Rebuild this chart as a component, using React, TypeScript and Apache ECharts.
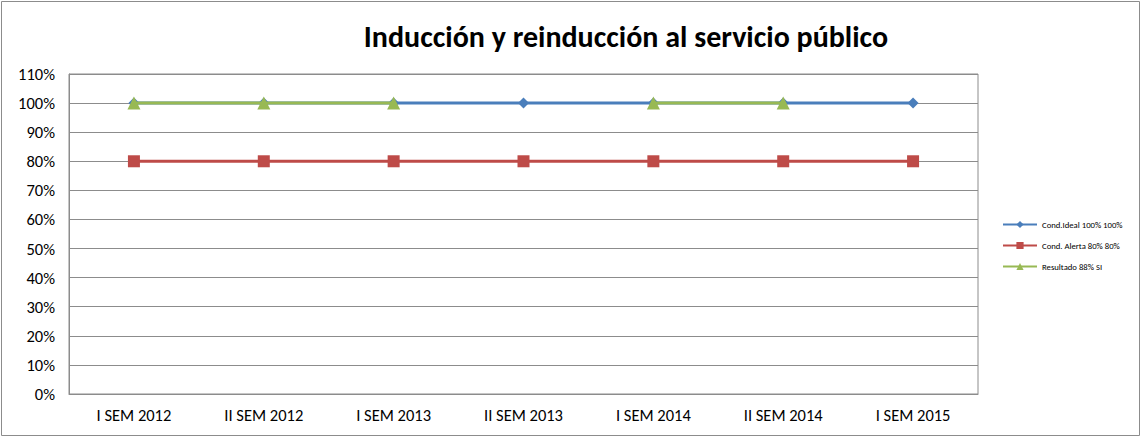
import React, { useEffect, useRef } from "react";
import * as echarts from "echarts";

const categories = ["I SEM 2012", "II SEM 2012", "I SEM 2013", "II SEM 2013", "I SEM 2014", "II SEM 2014", "I SEM 2015"];
const idealValues = [1, 1, 1, 1, 1, 1, 1];
const alertaValues = [0.8, 0.8, 0.8, 0.8, 0.8, 0.8, 0.8];
const resultadoValues: (number | null)[] = [1, 1, 1, null, 1, 1, null];
const seriesNames = ["Cond.Ideal 100% 100%", "Cond. Alerta 80% 80%", "Resultado 88% SI"];
const titleText = "Inducción y reinducción al servicio público";

export default function App() {
  const ref = useRef<HTMLDivElement>(null);
  useEffect(() => {
    const chart = echarts.init(ref.current!, undefined, { renderer: "svg" });
    const font = "Carlito, 'Liberation Sans', 'Open Sans', sans-serif";
    chart.setOption({
      animation: false,
      backgroundColor: "#ffffff",
      textStyle: { fontFamily: font },
      title: {
        text: titleText,
        left: 621,
        textAlign: "center",
        top: 16,
        textStyle: { fontSize: 30, fontWeight: "bold", color: "#000", fontFamily: font },
      },
      graphic: [
        {
          type: "rect",
          shape: { x: 1.5, y: 1.5, width: 1138, height: 434 },
          style: { fill: "none", stroke: "#8c8c8c", lineWidth: 1 },
          silent: true,
        },
      ],
      legend: {
        orient: "vertical",
        left: 997,
        top: 215,
        itemGap: 12,
        itemWidth: 34,
        itemHeight: 9,
        textStyle: { fontSize: 8.7, color: "#000", fontFamily: font },
        data: seriesNames,
      },
      grid: {
        left: 69,
        right: 164,
        top: 74,
        bottom: 44,
        show: true,
        borderColor: "#8c8c8c",
        borderWidth: 1,
      },
      xAxis: {
        type: "category",
        data: categories,
        boundaryGap: true,
        axisLine: { show: true, lineStyle: { color: "#8c8c8c" } },
        axisTick: { show: false },
        axisLabel: { fontSize: 16.5, color: "#000", margin: 12, fontFamily: font },
        splitLine: { show: false },
      },
      yAxis: {
        type: "value",
        min: 0,
        max: 1.1,
        interval: 0.1,
        axisLine: { show: true, lineStyle: { color: "#8c8c8c" } },
        axisTick: { show: false },
        axisLabel: {
          fontSize: 16.5,
          color: "#000",
          margin: 14,
          fontFamily: font,
          formatter: (v: number) => Math.round(v * 100) + "%",
        },
        splitLine: { show: true, lineStyle: { color: "#8c8c8c", width: 1 } },
      },
      series: [
        {
          name: seriesNames[0],
          type: "line",
          data: idealValues,
          symbol: "diamond",
          symbolSize: 11,
          lineStyle: { color: "#4a7ebb", width: 3 },
          itemStyle: { color: "#4a7ebb" },
          z: 2,
        },
        {
          name: seriesNames[1],
          type: "line",
          data: alertaValues,
          symbol: "rect",
          symbolSize: 12,
          lineStyle: { color: "#be4b48", width: 3 },
          itemStyle: { color: "#be4b48" },
          z: 2,
        },
        {
          name: seriesNames[2],
          type: "line",
          data: resultadoValues,
          connectNulls: false,
          symbol: "triangle",
          symbolSize: 13,
          lineStyle: { color: "#98b954", width: 3 },
          itemStyle: { color: "#98b954" },
          z: 3,
        },
      ],
    });
    return () => chart.dispose();
  }, []);
  return (
    <div
      ref={ref}
      style={{ position: "absolute", left: 0, top: 0, width: 1142, height: 438 }}
    />
  );
}
